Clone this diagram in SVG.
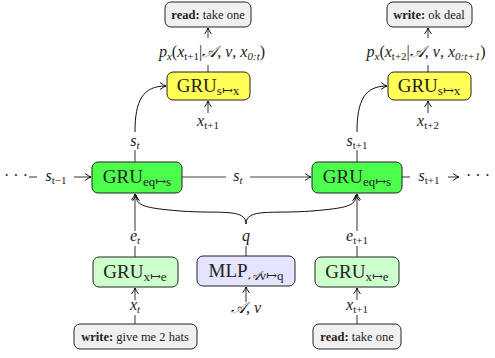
<svg xmlns="http://www.w3.org/2000/svg" width="495" height="358" viewBox="0 0 495 358">
<defs>
<marker id="arr" viewBox="0 0 10 10" refX="9" refY="5" markerWidth="8" markerHeight="8" orient="auto" markerUnits="userSpaceOnUse">
<path d="M2,1 Q6,4 9,5 Q6,6 2,9" fill="none" stroke="#000" stroke-width="1.2" stroke-linecap="round"/>
</marker>
</defs>
<style>
text{font-family:"Liberation Serif","DejaVu Serif",serif;fill:#222}
.box{stroke:#222;stroke-width:1}
.io{fill:#f0f0f0}
.yel{fill:#ffff55}
.grn{fill:#4dff4d}
.lgr{fill:#ccffcc}
.lav{fill:#e4e4ff}
.big{font-size:19px;text-anchor:middle}
.bs{font-size:13px}
.sm{font-size:12.5px;text-anchor:middle}
.m{font-size:16px;text-anchor:middle;font-style:italic}
.sub{font-size:11px}
.up{font-style:normal}
.c{fill:none;stroke:#444;stroke-width:1.1}
.cv{fill:none;stroke:#111;stroke-width:1}
</style>

<g id="connectors">
<path class="c" d="M208,38 L208,28" marker-end="url(#arr)"/>
<path class="c" d="M208,65 L208,72"/>
<path class="c" d="M208,113 L208,101" marker-end="url(#arr)"/>
<path class="c" d="M428,38 L428,28" marker-end="url(#arr)"/>
<path class="c" d="M428,65 L428,72"/>
<path class="c" d="M428,113 L428,101" marker-end="url(#arr)"/>
<path class="cv" d="M135,132 C135,100 143,86 166,86" marker-end="url(#arr)"/>
<path class="cv" d="M357,132 C357,100 365,86 387,86" marker-end="url(#arr)"/>
<path class="c" d="M135,150 L135,162"/>
<path class="c" d="M357,150 L357,162"/>
<path class="c" d="M29,177 L37,177"/>
<path class="c" d="M74,177 L91,177" marker-end="url(#arr)"/>
<path class="c" d="M182,177 L226,177"/>
<path class="c" d="M250,177 L311,177" marker-end="url(#arr)"/>
<path class="c" d="M402,177 L410,177"/>
<path class="c" d="M448,177 L459,177" marker-end="url(#arr)"/>
<path class="c" d="M135,231 L135,194" marker-end="url(#arr)"/>
<path class="c" d="M135,246 L135,257"/>
<path class="c" d="M357,231 L357,194" marker-end="url(#arr)"/>
<path class="c" d="M357,246 L357,257"/>
<path class="c" d="M135,300 L135,288" marker-end="url(#arr)"/>
<path class="c" d="M135,315 L135,324"/>
<path class="c" d="M357,300 L357,288" marker-end="url(#arr)"/>
<path class="c" d="M357,315 L357,324"/>
<path class="c" d="M246,302 L246,287" marker-end="url(#arr)"/>
<path class="c" d="M246,246 L246,256"/>
<path class="cv" d="M246,224 C246,208 220,214 180,211 C145,208 136,206 136,195" marker-end="url(#arr)"/>
<path class="cv" d="M246,224 C246,208 272,214 312,211 C347,208 356,206 356,195" marker-end="url(#arr)"/>
</g>

<g id="read-top">
<rect class="box io" x="165" y="2" width="86" height="25" rx="6"/>
<text class="sm" x="208" y="19"><tspan font-weight="bold">read:</tspan> take one</text>
</g>
<g id="write-top">
<rect class="box io" x="387" y="2" width="85" height="25" rx="6"/>
<text class="sm" x="429" y="19"><tspan font-weight="bold">write:</tspan> ok deal</text>
</g>

<g id="px-left">
<text class="m" x="212" y="57">p<tspan class="sub" dy="3">x</tspan><tspan class="up" dy="-3">(</tspan>x<tspan class="sub up" dy="3">t+1</tspan><tspan class="up" dy="-3">|</tspan>𝒜<tspan class="up">, </tspan>v<tspan class="up">, </tspan>x<tspan class="sub" dy="3">0:t</tspan><tspan class="up" dy="-3">)</tspan></text>
</g>
<g id="px-right">
<text class="m" x="426" y="57">p<tspan class="sub" dy="3">x</tspan><tspan class="up" dy="-3">(</tspan>x<tspan class="sub up" dy="3">t+2</tspan><tspan class="up" dy="-3">|</tspan>𝒜<tspan class="up">, </tspan>v<tspan class="up">, </tspan>x<tspan class="sub" dy="3">0:t+1</tspan><tspan class="up" dy="-3">)</tspan></text>
</g>

<g id="gru-sx-left">
<rect class="box yel" x="167" y="72" width="83" height="28" rx="6"/>
<text class="big" x="208" y="92">GRU<tspan class="bs" dy="3">s↦x</tspan></text>
</g>
<g id="gru-sx-right">
<rect class="box yel" x="388" y="72" width="83" height="28" rx="6"/>
<text class="big" x="429" y="92">GRU<tspan class="bs" dy="3">s↦x</tspan></text>
</g>

<g id="xt1-top"><text class="m" x="208" y="126">x<tspan class="sub up" dy="3">t+1</tspan></text></g>
<g id="xt2-top"><text class="m" x="428" y="126">x<tspan class="sub up" dy="3">t+2</tspan></text></g>

<g id="st-up"><text class="m" x="135" y="146">s<tspan class="sub" dy="3">t</tspan></text></g>
<g id="st1-up"><text class="m" x="357" y="146">s<tspan class="sub up" dy="3">t+1</tspan></text></g>

<g id="dots-left"><text class="m up" x="16" y="181">· · ·</text></g>
<g id="st-1"><text class="m" x="56" y="181">s<tspan class="sub up" dy="3">t−1</tspan></text></g>
<g id="st-mid"><text class="m" x="238" y="181">s<tspan class="sub" dy="3">t</tspan></text></g>
<g id="st1-right"><text class="m" x="429" y="181">s<tspan class="sub up" dy="3">t+1</tspan></text></g>
<g id="dots-right"><text class="m up" x="478" y="181">· · ·</text></g>

<g id="gru-eqs-left">
<rect class="box grn" x="92" y="162" width="90" height="31" rx="6"/>
<text class="big" x="137" y="183">GRU<tspan class="bs" dy="3">eq↦s</tspan></text>
</g>
<g id="gru-eqs-right">
<rect class="box grn" x="312" y="162" width="90" height="31" rx="6"/>
<text class="big" x="357" y="183">GRU<tspan class="bs" dy="3">eq↦s</tspan></text>
</g>

<g id="et"><text class="m" x="135" y="241">e<tspan class="sub" dy="3">t</tspan></text></g>
<g id="q"><text class="m" x="246" y="241">q</text></g>
<g id="et1"><text class="m" x="357" y="241">e<tspan class="sub up" dy="3">t+1</tspan></text></g>

<g id="gru-xe-left">
<rect class="box lgr" x="93" y="257" width="85" height="30" rx="6"/>
<text class="big" x="135" y="278">GRU<tspan class="bs" dy="3">x↦e</tspan></text>
</g>
<g id="mlp">
<rect class="box lav" x="197" y="256" width="98" height="30" rx="6"/>
<text class="big" x="246" y="277">MLP<tspan class="bs" dy="3"><tspan font-style="italic">𝒜</tspan>v↦q</tspan></text>
</g>
<g id="gru-xe-right">
<rect class="box lgr" x="315" y="257" width="84" height="30" rx="6"/>
<text class="big" x="357" y="278">GRU<tspan class="bs" dy="3">x↦e</tspan></text>
</g>

<g id="xt"><text class="m" x="135" y="310">x<tspan class="sub" dy="3">t</tspan></text></g>
<g id="av"><text class="m" x="246" y="313">𝒜<tspan class="up">, </tspan>v</text></g>
<g id="xt1"><text class="m" x="357" y="310">x<tspan class="sub up" dy="3">t+1</tspan></text></g>

<g id="write-bottom">
<rect class="box io" x="74" y="324" width="123" height="25" rx="6"/>
<text class="sm" x="135" y="341"><tspan font-weight="bold">write:</tspan> give me 2 hats</text>
</g>
<g id="read-bottom">
<rect class="box io" x="313" y="324" width="88" height="25" rx="6"/>
<text class="sm" x="357" y="341"><tspan font-weight="bold">read:</tspan> take one</text>
</g>
</svg>
